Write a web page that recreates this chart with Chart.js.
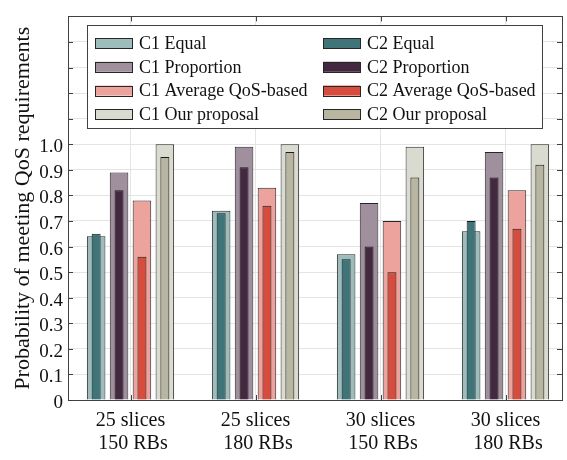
<!DOCTYPE html>
<html>
<head>
<meta charset="utf-8">
<script src="https://cdn.jsdelivr.net/npm/chart.js@4.4.1/dist/chart.umd.min.js"></script>
<style>
  html, body { margin: 0; padding: 0; background: #fff; }
  #wrap { width: 567px; height: 460px; position: relative; }
</style>
</head>
<body>
<div id="wrap"><canvas id="qosChart"></canvas></div>
<script>
// scenarios on the x axis (second line indented like the original)
const categories = [
    ['25 slices', ' 150 RBs'],
    ['25 slices', ' 180 RBs'],
    ['30 slices', ' 150 RBs'],
    ['30 slices', ' 180 RBs']
];
const methods = ['Equal', 'Proportion', 'Average QoS-based', 'Our proposal'];

// probability of meeting QoS requirements
const c1Equal      = [0.64, 0.74, 0.57, 0.66];
const c2Equal      = [0.65, 0.73, 0.55, 0.70];
const c1Proportion = [0.89, 0.99, 0.77, 0.97];
const c2Proportion = [0.82, 0.91, 0.60, 0.87];
const c1Average    = [0.78, 0.83, 0.70, 0.82];
const c2Average    = [0.56, 0.76, 0.50, 0.67];
const c1Proposal   = [1.00, 1.00, 0.99, 1.00];
const c2Proposal   = [0.95, 0.97, 0.87, 0.92];

const yTickLabels = ['0', '0.1', '0.2', '0.3', '0.4', '0.5', '0.6', '0.7', '0.8', '0.9', '1.0'];

const c1Colors = ['#9dbcbc', '#a0909d', '#eca39e', '#dadbd0'];
const c2Colors = ['#3f7479', '#43293f', '#d84c3e', '#b8b6a0'];

const seriesC1 = [c1Equal, c1Proportion, c1Average, c1Proposal];
const seriesC2 = [c2Equal, c2Proportion, c2Average, c2Proposal];

const serif = '"Liberation Serif", "Times New Roman", serif';
const frameColor = '#404040';

const datasets = [];
methods.forEach((m, i) => {
    datasets.push({
        label: 'C1 ' + m,
        data: seriesC1[i].map((v, k) => ({ x: k + 1, y: v })),
        backgroundColor: c1Colors[i],
        borderColor: '#262626',
        borderWidth: 1,
        stack: 'm' + i,
        categoryPercentage: 0.733,
        barPercentage: 0.81,
        order: 1
    });
    datasets.push({
        label: 'C2 ' + m,
        data: seriesC2[i].map((v, k) => ({ x: k + 1, y: v })),
        backgroundColor: c2Colors[i],
        borderColor: '#1a1a1a',
        borderWidth: 1,
        stack: 'm' + i,
        categoryPercentage: 0.733,
        barPercentage: 0.39,
        order: 0
    });
});

// box around the axes with inward tick marks, like matlab
const frame = {
    id: 'frame',
    afterDatasetsDraw(chart) {
        const { ctx, chartArea: a, scales } = chart;
        ctx.save();
        ctx.strokeStyle = frameColor;
        ctx.lineWidth = 1;
        ctx.beginPath();
        scales.y.ticks.forEach(t => {
            const py = Math.round(scales.y.getPixelForValue(t.value)) + 0.5;
            ctx.moveTo(a.left, py); ctx.lineTo(a.left + 5, py);
            ctx.moveTo(a.right, py); ctx.lineTo(a.right - 5, py);
        });
        scales.x.ticks.forEach(t => {
            const px = Math.round(scales.x.getPixelForValue(t.value)) + 0.5;
            ctx.moveTo(px, a.bottom); ctx.lineTo(px, a.bottom - 5);
            ctx.moveTo(px, a.top); ctx.lineTo(px, a.top + 5);
        });
        ctx.stroke();
        ctx.strokeRect(Math.round(a.left) + 0.5, Math.round(a.top) + 0.5,
            Math.round(a.right - a.left), Math.round(a.bottom - a.top));
        ctx.restore();
    }
};

// two-column legend inside the plot
const legendBox = {
    id: 'legendBox',
    afterDraw(chart) {
        const ctx = chart.ctx;
        ctx.save();
        ctx.fillStyle = '#ffffff';
        ctx.fillRect(87, 25, 455, 103);
        ctx.strokeStyle = frameColor;
        ctx.lineWidth = 1;
        ctx.strokeRect(87.5, 25.5, 455, 103);
        ctx.font = '18px ' + serif;
        ctx.textBaseline = 'middle';
        chart.data.datasets.forEach((ds, i) => {
            const x = i % 2 ? 323 : 95;
            const y = 43 + Math.floor(i / 2) * 23.8;
            ctx.fillStyle = ds.backgroundColor;
            ctx.fillRect(x, y - 5, 37, 10);
            ctx.strokeStyle = '#262626';
            ctx.strokeRect(x + 0.5, Math.round(y - 5) + 0.5, 37, 10);
            ctx.fillStyle = '#111';
            ctx.fillText(ds.label, x + 44, y + 1);
        });
        ctx.restore();
    }
};

new Chart(document.getElementById('qosChart'), {
    type: 'bar',
    data: { datasets: datasets },
    options: {
        responsive: true,
        maintainAspectRatio: false,
        animation: false,
        layout: { padding: { top: 5, right: 5, left: 0, bottom: 0 } },
        plugins: {
            legend: { display: false },
            tooltip: { enabled: false }
        },
        scales: {
            x: {
                type: 'linear',
                offset: false,
                min: 0.5,
                max: 4.452,
                afterBuildTicks: axis => {
                    axis.ticks = categories.map((c, i) => ({ value: i + 1 }));
                },
                afterFit: s => { s.height = 60; },
                grid: { color: '#e4e4e4', drawTicks: false, offset: false },
                border: { display: false },
                ticks: {
                    autoSkip: false,
                    maxRotation: 0,
                    padding: 9,
                    color: '#111',
                    font: { family: serif, size: 20, lineHeight: 1.15 },
                    callback: (v) => categories[Math.round(v) - 1]
                }
            },
            y: {
                stacked: false,
                min: 0,
                max: 1.5,
                afterFit: s => { s.width = 68; },
                grid: { color: '#e4e4e4', drawTicks: false },
                border: { display: false },
                ticks: {
                    stepSize: 0.1,
                    maxTicksLimit: 20,
                    autoSkip: false,
                    padding: 5,
                    labelOffset: 3,
                    color: '#111',
                    font: { family: serif, size: 19 },
                    callback: (v, i) => (i < yTickLabels.length ? yTickLabels[i] : '')
                },
                title: {
                    display: true,
                    text: 'Probability of meeting QoS requirements',
                    color: '#111',
                    font: { family: serif, size: 22 },
                    padding: { top: 10, bottom: 0 }
                }
            }
        }
    },
    plugins: [frame, legendBox]
});
</script>
</body>
</html>
